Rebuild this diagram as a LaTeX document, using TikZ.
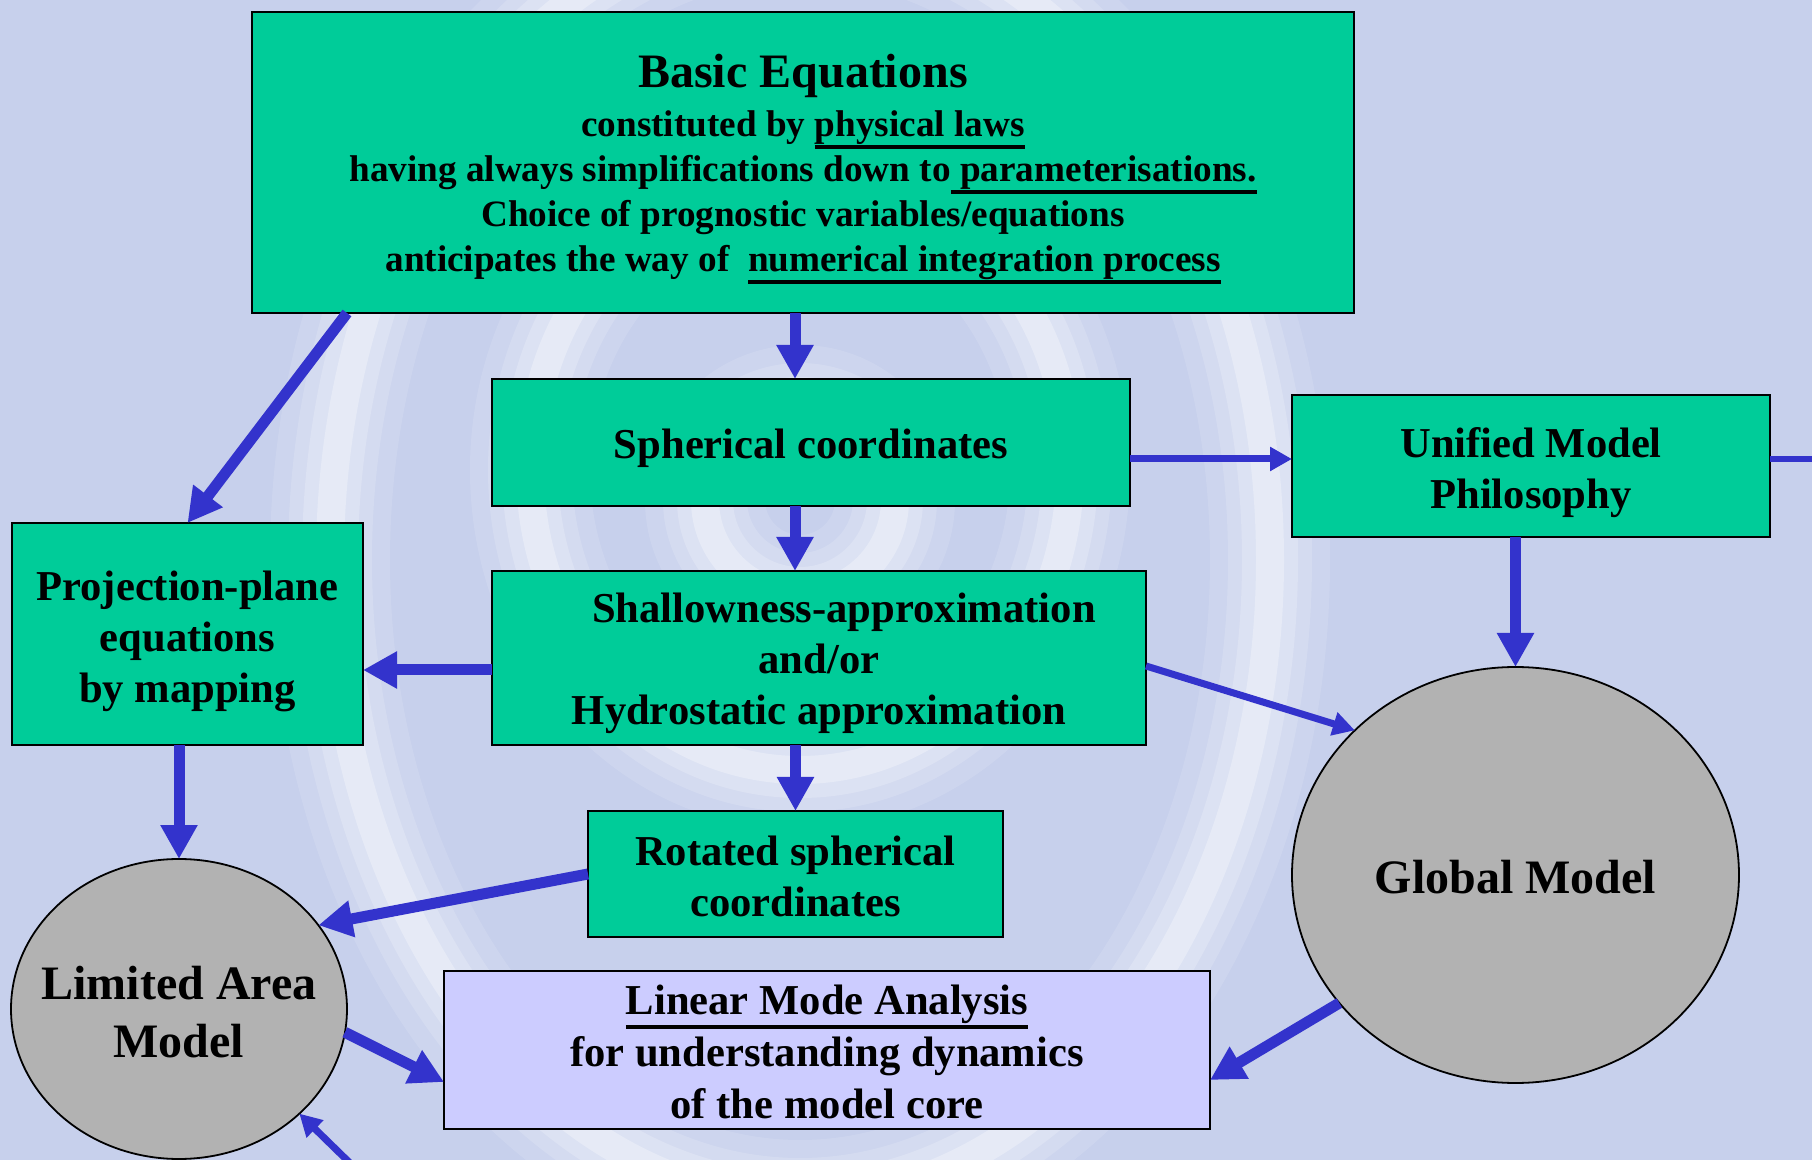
\documentclass[tikz,border=0pt]{standalone}
\usepackage{fontspec}
\setmainfont{Liberation Serif}
\usetikzlibrary{arrows.meta,shapes.geometric}
\definecolor{bgc}{RGB}{199,208,236}
\definecolor{boxg}{RGB}{0,204,153}
\definecolor{ellg}{RGB}{178,178,178}
\definecolor{linb}{RGB}{204,204,255}
\definecolor{arrc}{RGB}{51,51,204}
\newcommand\ulx[1]{\setbox0\hbox{#1}\rlap{\rule[-0.34em]{\wd0}{0.11em}}\box0}
\begin{document}
\begin{tikzpicture}[x=0.5pt,y=-0.5pt,
 gbox/.style={draw=black, line width=1pt, fill=boxg, inner sep=0pt, outer sep=0pt},
 gtext/.style={align=center, inner sep=0pt, font=\fontsize{21.3}{25.5}\selectfont\bfseries},
 gell/.style={ellipse, draw=black, line width=0.9pt, fill=ellg, inner sep=0pt, outer sep=0pt},
 etext/.style={align=center, inner sep=0pt, font=\fontsize{24}{29}\selectfont\bfseries},
 arrbig/.style={draw=arrc, line width=5.5pt, -{Triangle[length=17pt,width=17.5pt]}},
 arrthin/.style={draw=arrc, line width=3.5pt, -{Triangle[length=11pt,width=11.5pt]}},
 arrline/.style={draw=arrc, line width=3pt}]
\useasboundingbox (0,0) rectangle (1812,1160);
\fill[bgc] (0,0) rectangle (1812,1160);
\begin{scope}
\clip (0,0) rectangle (1812,1160);
\foreach \w/\o in {60/0.12,42/0.15,28/0.2,14/0.3}{
  \draw[white, opacity=\o, line width=\w pt] (800,560) ellipse [x radius=470, y radius=640];
  \draw[white, opacity=\o, line width=\w pt] (800,470) ellipse [x radius=270, y radius=300];
  \draw[white, opacity=\o, line width=\w pt] (800,500) circle [radius=95];
}
\end{scope}

\node[gbox, minimum width=551pt, minimum height=150.5pt] (basic) at (803,162.5) {};
\node[gtext, font=\fontsize{18.6}{22.5}\selectfont\bfseries] (basictxt) at ([yshift=-3.5pt]basic.center)
 {{\fontsize{24}{28}\selectfont Basic Equations}\\[2pt]
  constituted by \ulx{physical laws}\\
  having always simplifications down to\ulx{ parameterisations.}\\
  Choice of prognostic variables/equations\\
  anticipates the way of\ \ \ulx{numerical integration process}};
\node[gbox, minimum width=319pt, minimum height=63.5pt] (sph) at (811,442.5) {};
\node[gtext] (sphtxt) at ([yshift=-2.9pt]sph.center) {Spherical coordinates};
\node[gbox, minimum width=239pt, minimum height=71pt] (unified) at (1531,466) {};
\node[gtext] (unitxt) at ([yshift=-3.2pt]unified.center) {Unified Model\\Philosophy};
\node[gbox, minimum width=175.5pt, minimum height=111pt] (proj) at (187.5,634) {};
\node[gtext] (projtxt) at ([yshift=-3.5pt]proj.center) {Projection-plane\\equations\\by mapping};
\node[gbox, minimum width=327pt, minimum height=87pt] (shallow) at (819,658) {};
\node[gtext] (shtxt) at ([yshift=-2.9pt]shallow.center) {\hspace*{25pt}Shallowness-approximation\\and/or\\Hydrostatic approximation};
\node[gbox, minimum width=207.5pt, minimum height=63pt] (rot) at (795.5,874) {};
\node[gtext] (rottxt) at ([yshift=-1.2pt]rot.center) {Rotated spherical\\coordinates};
\node[gbox, fill=linb, minimum width=383pt, minimum height=79pt] (linear) at (827,1050) {};
\node[gtext, font=\fontsize{21.3}{26}\selectfont\bfseries] (lintxt) at ([yshift=-1.2pt]linear.center)
 {\ulx{Linear Mode Analysis}\\for understanding dynamics\\of the model core};
\node[gell, minimum width=168pt, minimum height=150pt] (lam) at (179,1009) {};
\node[etext] (lamtxt) at ([yshift=-1.7pt]lam.center) {Limited Area\\Model};
\node[gell, minimum width=223.5pt, minimum height=208pt] (global) at (1515.5,875) {};
\node[etext] (globaltxt) at ([yshift=-1.2pt]global.center) {Global Model};

\coordinate (b1) at ([xshift=-4pt]basic.south);
\coordinate (s1) at ([xshift=-8pt]sph.south);
\coordinate (h1) at ([yshift=-6pt]shallow.west);
\coordinate (s2) at ([yshift=-8.25pt]sph.east);
\coordinate (edgeR) at (1812,459);
\coordinate (edgeB) at (352,1165);

\draw[arrbig] ([xshift=47.5pt]basic.south west) -- (proj.north);
\draw[arrbig] (b1) -- (b1 |- sph.north);
\draw[arrbig] (s1) -- (s1 |- shallow.north);
\draw[arrbig] (shallow.south -| rot.north) -- (rot.north);
\draw[arrbig] (proj.south -| lam.north) -- (lam.north);
\draw[arrbig] (unified.south -| global.north) -- (global.north);
\draw[arrbig] (h1) -- (h1 -| proj.east);
\draw[arrthin] (s2) -- (s2 -| unified.west);
\draw[arrline] ([yshift=3.5pt]unified.east) -- (edgeR);
\draw[arrthin] ([yshift=-4pt]shallow.east) -- (global.138);
\draw[arrbig] (rot.west) -- (lam.31);
\draw[arrbig] (lam.-8.5) -- ([yshift=-16pt]linear.west);
\draw[arrbig] (global.216) -- ([yshift=-15pt]linear.east);
\draw[arrthin] (edgeB) -- (lam.-41);
\end{tikzpicture}
\end{document}
